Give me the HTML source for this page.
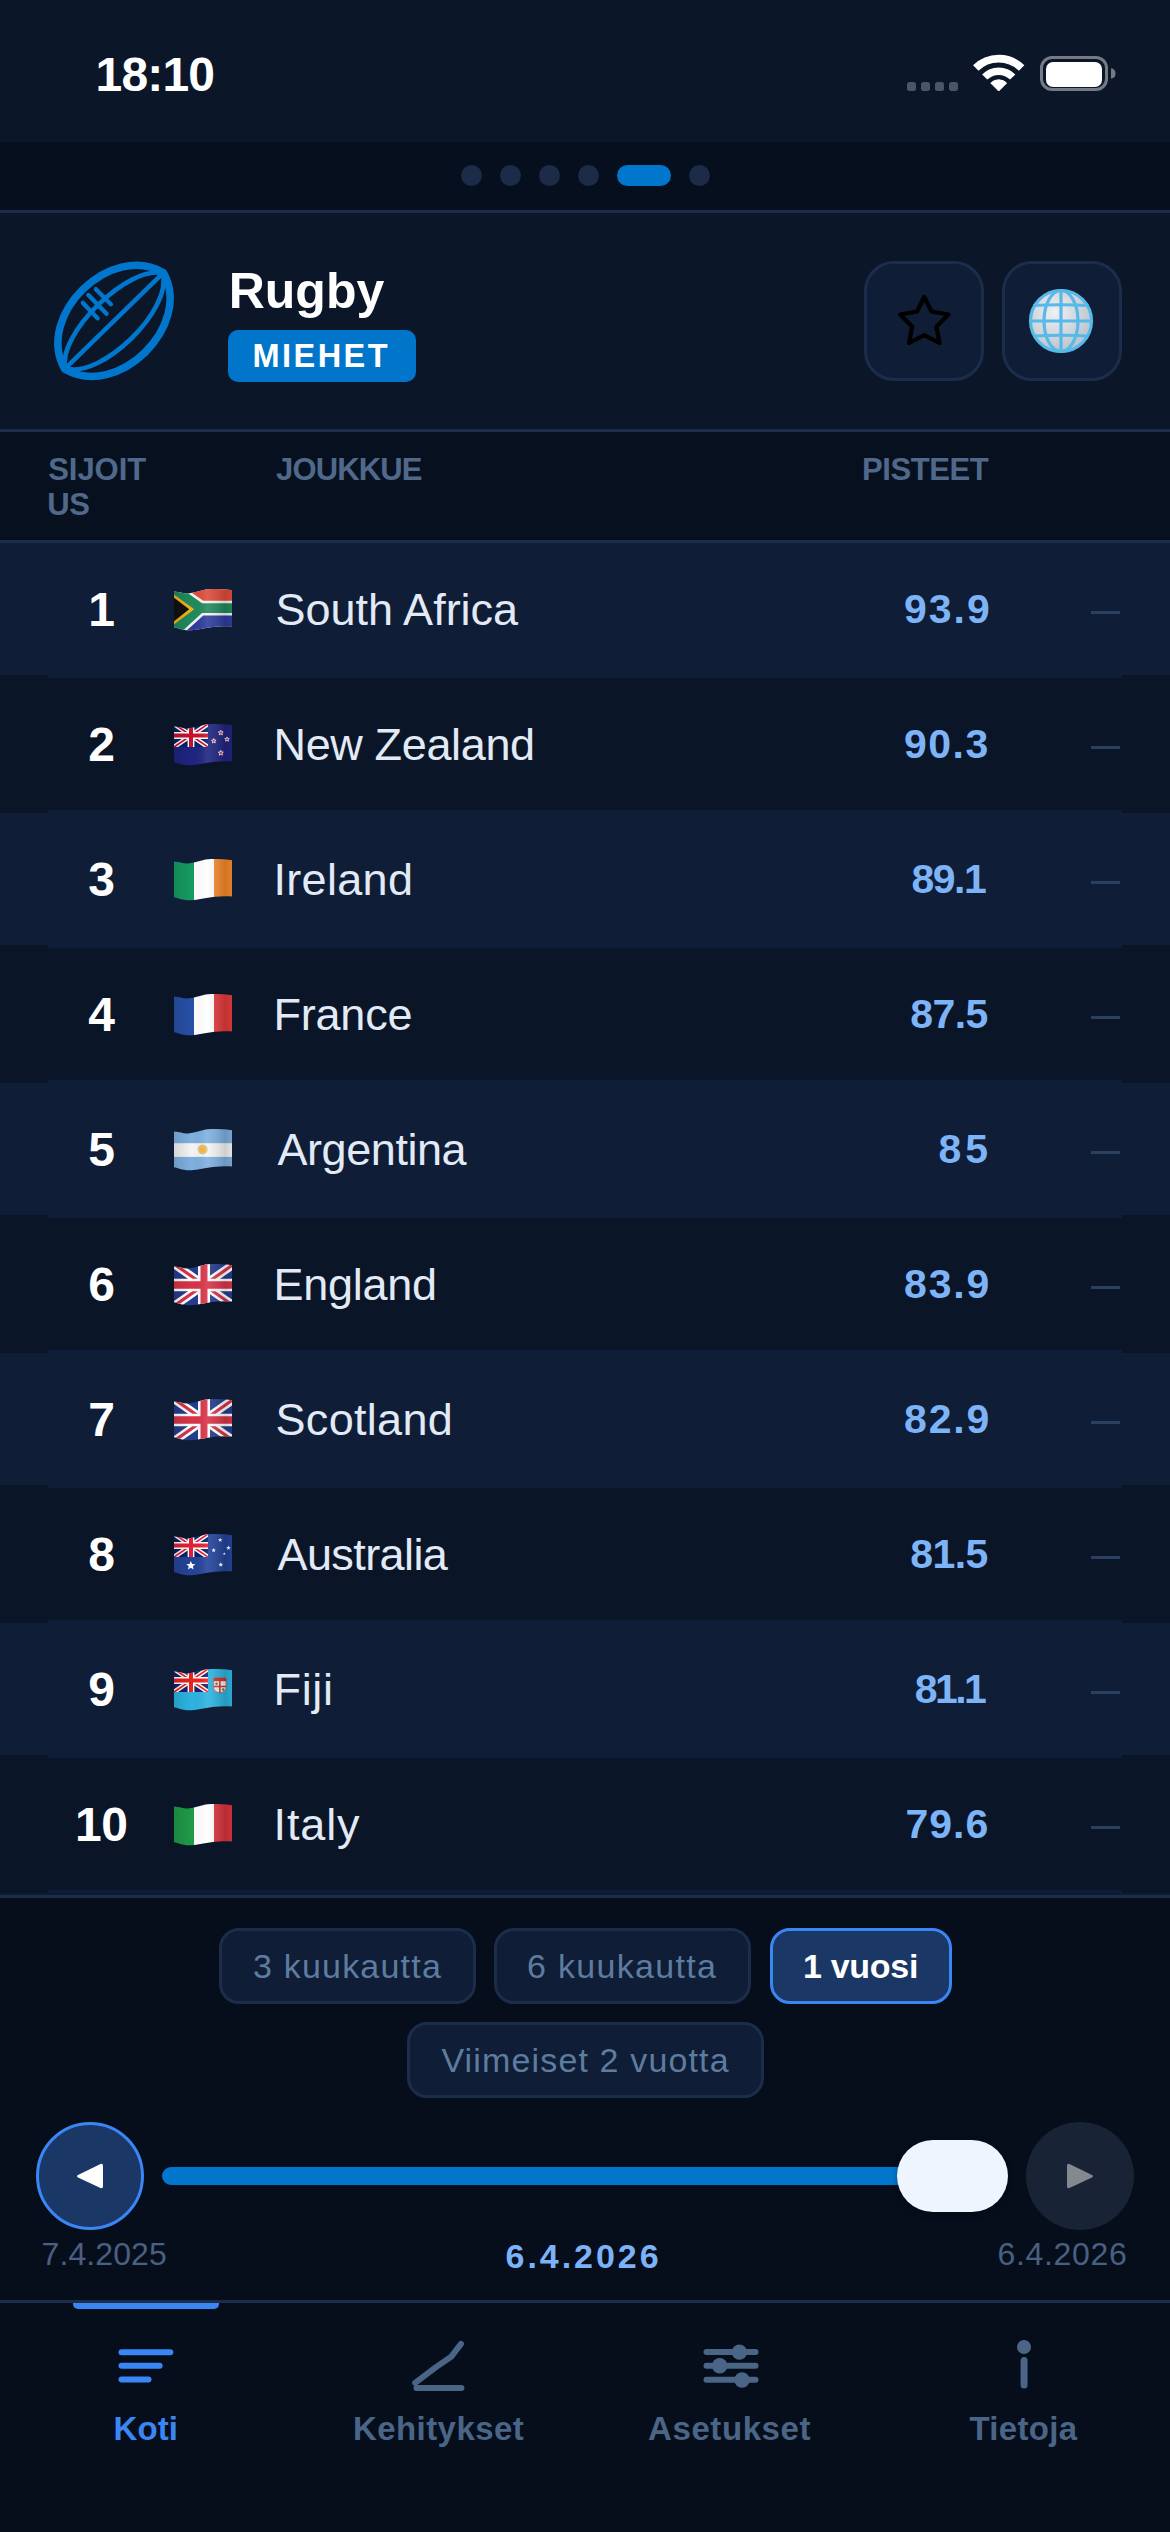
<!DOCTYPE html>
<html><head><meta charset="utf-8"><style>
html,body{margin:0;padding:0;width:1170px;height:2532px;overflow:hidden;background:#060e1c;}
body{position:relative;font-family:"Liberation Sans", sans-serif;}
.r{position:absolute;}
.t{position:absolute;white-space:nowrap;}
</style></head><body>
<div class="r" style="left:0px;top:0px;width:1170px;height:141px;background:#0b1628;"></div>
<div class="r" style="left:0px;top:141px;width:1170px;height:69px;background:#060f1d;"></div>
<div class="r" style="left:0px;top:140px;width:1170px;height:2px;background:#0b172c;"></div>
<div class="r" style="left:0px;top:210px;width:1170px;height:3px;background:#1c2c4b;"></div>
<div class="r" style="left:0px;top:213px;width:1170px;height:216px;background:#0b1628;"></div>
<div class="r" style="left:0px;top:429px;width:1170px;height:3px;background:#1c2c4b;"></div>
<div class="r" style="left:0px;top:432px;width:1170px;height:108px;background:#07101f;"></div>
<div class="r" style="left:0px;top:540px;width:1170px;height:3px;background:#1c2c4b;"></div>
<div class="r" style="left:0px;top:1893px;width:1170px;height:2px;background:#0e1b33;"></div>
<div class="r" style="left:0px;top:1895px;width:1170px;height:3px;background:#1c2c4b;"></div>
<div class="r" style="left:0px;top:1898px;width:1170px;height:634px;background:#060e1c;"></div>
<div class="r" style="left:0px;top:2300px;width:1170px;height:3px;background:#1c2c4b;"></div>
<div class="t" style="left:95.5px;top:51.07px;font-size:48px;line-height:48px;color:#ffffff;font-weight:700;letter-spacing:-0.8px;">18:10</div>
<div class="r" style="left:907px;top:82px;width:9px;height:9px;background:#4a5566;border-radius:2.5px;"></div>
<div class="r" style="left:921px;top:82px;width:9px;height:9px;background:#4a5566;border-radius:2.5px;"></div>
<div class="r" style="left:935px;top:82px;width:9px;height:9px;background:#4a5566;border-radius:2.5px;"></div>
<div class="r" style="left:949px;top:82px;width:9px;height:9px;background:#4a5566;border-radius:2.5px;"></div>
<svg class="r" style="left:960px;top:45px" width="80" height="50" viewBox="960 45 80 50">
<g fill="none" stroke="#fff">
<path d="M975.79 68.09 A32.4 32.4 0 0 1 1021.61 68.09" stroke-width="7.8"/>
<path d="M984.70 77.00 A19.8 19.8 0 0 1 1012.70 77.00" stroke-width="7.4"/>
</g>
<path d="M998.7 91.0 L990.78 83.08 A11.2 11.2 0 0 1 1006.62 83.08 Z" fill="#fff" stroke="#fff" stroke-width="1" stroke-linejoin="round"/>
</svg>
<div class="r" style="left:1040px;top:56px;width:62px;height:29px;background:transparent;border:3.5px solid #757b85;border-radius:12px;"></div>
<div class="r" style="left:1046px;top:61.5px;width:56px;height:25px;background:#ffffff;border-radius:7px;"></div>
<svg class="r" style="left:1110px;top:67px" width="8" height="13" viewBox="0 0 8 13"><path d="M1 1.3 Q5.5 2 5.5 6.5 Q5.5 11 1 11.7 Z" fill="#757b85"/></svg>
<div class="r" style="left:461px;top:165px;width:21px;height:21px;background:#1b2b48;border-radius:50%;"></div>
<div class="r" style="left:500px;top:165px;width:21px;height:21px;background:#1b2b48;border-radius:50%;"></div>
<div class="r" style="left:539px;top:165px;width:21px;height:21px;background:#1b2b48;border-radius:50%;"></div>
<div class="r" style="left:578px;top:165px;width:21px;height:21px;background:#1b2b48;border-radius:50%;"></div>
<div class="r" style="left:689px;top:165px;width:21px;height:21px;background:#1b2b48;border-radius:50%;"></div>
<div class="r" style="left:617px;top:165px;width:54px;height:21px;background:#0077cc;border-radius:11px;"></div>
<svg class="r" style="left:40px;top:250px" width="150" height="140" viewBox="40 250 150 140">
<g fill="none" stroke="#0077cc" stroke-linecap="round" stroke-linejoin="round">
<g transform="translate(114 320.8) rotate(-44.3)">
<path d="M-69 0 C-53 -59 53 -59 69 0 C53 59 -53 59 -69 0 Z" stroke-width="7.5"/>
<line x1="-68" y1="0" x2="68" y2="0" stroke-width="4.5"/>
<path d="M-68 0 C-50 -30 50 -30 68 0" stroke-width="4.6"/>
<path d="M-68 0 C-50 33 50 33 68 0" stroke-width="4.6"/>
</g>
<line x1="82.9" y1="302.9" x2="97.6" y2="318.3" stroke-width="4.4"/>
<line x1="88.4" y1="295" x2="106.5" y2="313.8" stroke-width="4.4"/>
<line x1="95.9" y1="289.2" x2="110.9" y2="304.2" stroke-width="4.4"/>
</g></svg>
<div class="t" style="left:228.7px;top:266.48px;font-size:50px;line-height:50px;color:#ffffff;font-weight:700;letter-spacing:0.0px;">Rugby</div>
<div class="r" style="left:228px;top:330px;width:188px;height:52px;background:#0075ca;border-radius:10px;"></div>
<div class="t" style="left:252.5px;top:339.69px;font-size:32.5px;line-height:32.5px;color:#ffffff;font-weight:700;letter-spacing:2.46px;">MIEHET</div>
<div class="r" style="left:864px;top:261px;width:120px;height:120px;background:#0f1d36;border:3px solid #1c2d4b;border-radius:30px;box-sizing:border-box;"></div>
<div class="r" style="left:1002px;top:261px;width:120px;height:120px;background:#0f1d36;border:3px solid #1c2d4b;border-radius:30px;box-sizing:border-box;"></div>
<svg class="r" style="left:890px;top:288px" width="70" height="66" viewBox="890 288 70 66">
<path d="M924.3 297 L931.5 311.5 L948.5 314.5 L936.5 326.5 L939.5 343 L924.3 335.2 L909.1 343 L912.1 326.5 L900.1 314.5 L917.1 311.5 Z" fill="none" stroke="#000" stroke-width="4.2" stroke-linejoin="round"/>
</svg>
<svg class="r" style="left:1026px;top:286px" width="70" height="70" viewBox="0 0 70 70">
<defs><radialGradient id="gg" cx="0.4" cy="0.35" r="0.7"><stop offset="0" stop-color="#eef0f3"/><stop offset="1" stop-color="#b9c0c9"/></radialGradient></defs>
<circle cx="35" cy="35" r="31" fill="url(#gg)"/>
<g fill="none" stroke="#56b9e8" stroke-width="3.2">
<circle cx="35" cy="35" r="30.5"/>
<ellipse cx="35" cy="35" rx="17" ry="30.5"/>
<line x1="35" y1="4.5" x2="35" y2="65.5"/>
<line x1="4.5" y1="35" x2="65.5" y2="35"/>
<path d="M7.5 19.5 Q35 18 62.5 19.5"/>
<path d="M7.5 50 Q35 48.5 62.5 50"/>
</g></svg>
<div class="t" style="left:48.2px;top:453.76px;font-size:31px;line-height:31px;color:#50698a;font-weight:700;letter-spacing:-0.04px;">SIJOIT</div>
<div class="t" style="left:47.2px;top:488.76px;font-size:31px;line-height:31px;color:#50698a;font-weight:700;letter-spacing:-0.3px;">US</div>
<div class="t" style="left:276.0px;top:453.76px;font-size:31px;line-height:31px;color:#50698a;font-weight:700;letter-spacing:-0.85px;">JOUKKUE</div>
<div class="t" style="left:862.0px;top:453.76px;font-size:31px;line-height:31px;color:#50698a;font-weight:700;letter-spacing:-0.417px;">PISTEET</div>
<div class="r" style="left:0px;top:543px;width:1170px;height:132px;background:#0f1d36;"></div>
<div class="r" style="left:48px;top:675px;width:1074px;height:3px;background:#0f1e38;"></div>
<div class="r" style="left:0px;top:675px;width:48px;height:3px;background:#0a1527;"></div>
<div class="r" style="left:1122px;top:675px;width:48px;height:3px;background:#0a1527;"></div>
<div class="t" style="left:-298.7px;width:800px;text-align:center;top:585.67px;font-size:48px;line-height:48px;color:#ffffff;font-weight:700;letter-spacing:-0.5px;">1</div>
<svg class="r" style="left:174px;top:589px" width="60" height="43" viewBox="0 0 60 43"><defs><clipPath id="cp0"><path d="M0 2.6 C6 3 9 4.8 14 4.5 C22 3.5 30 0 37 0 C47 0 54 0.5 58 1.2 L58 37.5 C53 37 45 37.5 37 38.2 C28 39.5 20 41.5 14.6 41.3 C8 41 4 39 0 38.2 Z"/></clipPath><linearGradient id="sh0" x1="0" x2="1" y1="0" y2="0"><stop offset="0" stop-color="#000" stop-opacity="0.12"/><stop offset="0.3" stop-color="#000" stop-opacity="0"/><stop offset="0.55" stop-color="#fff" stop-opacity="0.10"/><stop offset="0.85" stop-color="#000" stop-opacity="0.15"/><stop offset="1" stop-color="#000" stop-opacity="0.05"/></linearGradient></defs><g clip-path="url(#cp0)"><rect x="0" y="0" width="60" height="43" fill="#f4f4f4"/>
<polygon points="12.3,0 60,0 60,11.8 29.3,11.8" fill="#de4b3a"/>
<polygon points="29.3,26.4 60,26.4 60,43 11,43" fill="#2f3d9e"/>
<polygon points="0,0 7.95,0 28.1,14.2 60,14.2 60,24.1 28.0,24.1 7.3,43 0,43" fill="#1f8a5e"/>
<polygon points="0,5.5 20.2,20.3 0,35.5" fill="#f2b31a"/>
<polygon points="0,8.8 15.2,20.3 0,32.3" fill="#111"/><rect x="0" y="0" width="60" height="43" fill="url(#sh0)"/></g></svg>
<div class="t" style="left:275.5px;top:587.41px;font-size:45px;line-height:45px;color:#e2eaf6;font-weight:400;letter-spacing:0.0px;">South Africa</div>
<div class="t" style="left:904.0px;top:589.09px;font-size:41px;line-height:41px;color:#7db4f7;font-weight:700;letter-spacing:2.0px;">93.9</div>
<div class="r" style="left:1091px;top:611px;width:29px;height:3px;background:#2b405e;"></div>
<div class="r" style="left:0px;top:678px;width:1170px;height:132px;background:#0a1527;"></div>
<div class="r" style="left:48px;top:810px;width:1074px;height:3px;background:#0f1e38;"></div>
<div class="r" style="left:0px;top:810px;width:48px;height:3px;background:#0a1527;"></div>
<div class="r" style="left:1122px;top:810px;width:48px;height:3px;background:#0a1527;"></div>
<div class="t" style="left:-298.7px;width:800px;text-align:center;top:720.67px;font-size:48px;line-height:48px;color:#ffffff;font-weight:700;letter-spacing:-0.5px;">2</div>
<svg class="r" style="left:174px;top:724px" width="60" height="43" viewBox="0 0 60 43"><defs><clipPath id="cp1"><path d="M0 2.6 C6 3 9 4.8 14 4.5 C22 3.5 30 0 37 0 C47 0 54 0.5 58 1.2 L58 37.5 C53 37 45 37.5 37 38.2 C28 39.5 20 41.5 14.6 41.3 C8 41 4 39 0 38.2 Z"/></clipPath><linearGradient id="sh1" x1="0" x2="1" y1="0" y2="0"><stop offset="0" stop-color="#000" stop-opacity="0.12"/><stop offset="0.3" stop-color="#000" stop-opacity="0"/><stop offset="0.55" stop-color="#fff" stop-opacity="0.10"/><stop offset="0.85" stop-color="#000" stop-opacity="0.15"/><stop offset="1" stop-color="#000" stop-opacity="0.05"/></linearGradient></defs><g clip-path="url(#cp1)"><rect x="0" y="0" width="60" height="43" fill="#1f2480"/><svg x="0" y="0" width="34" height="23" viewBox="0 0 60 40" preserveAspectRatio="none"><rect x="0" y="0" width="60" height="40" fill="#012169"/>
<path d="M0 0 L60 40 M60 0 L0 40" stroke="#fff" stroke-width="8"/>
<path d="M0 0 L60 40 M60 0 L0 40" stroke="#c8102e" stroke-width="3"/>
<path d="M30 0 V40 M0 20 H60" stroke="#fff" stroke-width="12"/>
<path d="M30 0 V40 M0 20 H60" stroke="#c8102e" stroke-width="7"/></svg><polygon points="46.80,6.20 47.49,7.85 49.27,8.00 47.91,9.16 48.33,10.90 46.80,9.97 45.27,10.90 45.69,9.16 44.33,8.00 46.11,7.85" fill="#d42a2a" stroke="#fff" stroke-width="0.8"/><polygon points="53.00,12.90 53.63,14.43 55.28,14.56 54.03,15.63 54.41,17.24 53.00,16.38 51.59,17.24 51.97,15.63 50.72,14.56 52.37,14.43" fill="#d42a2a" stroke="#fff" stroke-width="0.8"/><polygon points="39.80,14.60 40.43,16.13 42.08,16.26 40.83,17.33 41.21,18.94 39.80,18.08 38.39,18.94 38.77,17.33 37.52,16.26 39.17,16.13" fill="#d42a2a" stroke="#fff" stroke-width="0.8"/><polygon points="46.80,26.30 47.51,28.02 49.37,28.17 47.96,29.38 48.39,31.18 46.80,30.21 45.21,31.18 45.64,29.38 44.23,28.17 46.09,28.02" fill="#d42a2a" stroke="#fff" stroke-width="0.8"/><rect x="0" y="0" width="60" height="43" fill="url(#sh1)"/></g></svg>
<div class="t" style="left:273.5px;top:722.41px;font-size:45px;line-height:45px;color:#e2eaf6;font-weight:400;letter-spacing:-0.35px;">New Zealand</div>
<div class="t" style="left:904.0px;top:724.09px;font-size:41px;line-height:41px;color:#7db4f7;font-weight:700;letter-spacing:1.467px;">90.3</div>
<div class="r" style="left:1091px;top:746px;width:29px;height:3px;background:#2b405e;"></div>
<div class="r" style="left:0px;top:813px;width:1170px;height:132px;background:#0f1d36;"></div>
<div class="r" style="left:48px;top:945px;width:1074px;height:3px;background:#0f1e38;"></div>
<div class="r" style="left:0px;top:945px;width:48px;height:3px;background:#0a1527;"></div>
<div class="r" style="left:1122px;top:945px;width:48px;height:3px;background:#0a1527;"></div>
<div class="t" style="left:-298.7px;width:800px;text-align:center;top:855.67px;font-size:48px;line-height:48px;color:#ffffff;font-weight:700;letter-spacing:-0.5px;">3</div>
<svg class="r" style="left:174px;top:859px" width="60" height="43" viewBox="0 0 60 43"><defs><clipPath id="cp2"><path d="M0 2.6 C6 3 9 4.8 14 4.5 C22 3.5 30 0 37 0 C47 0 54 0.5 58 1.2 L58 37.5 C53 37 45 37.5 37 38.2 C28 39.5 20 41.5 14.6 41.3 C8 41 4 39 0 38.2 Z"/></clipPath><linearGradient id="sh2" x1="0" x2="1" y1="0" y2="0"><stop offset="0" stop-color="#000" stop-opacity="0.12"/><stop offset="0.3" stop-color="#000" stop-opacity="0"/><stop offset="0.55" stop-color="#fff" stop-opacity="0.10"/><stop offset="0.85" stop-color="#000" stop-opacity="0.15"/><stop offset="1" stop-color="#000" stop-opacity="0.05"/></linearGradient></defs><g clip-path="url(#cp2)"><rect x="0" y="0" width="20" height="42" fill="#169b62"/><rect x="20" y="0" width="20" height="42" fill="#fff"/><rect x="40" y="0" width="20" height="42" fill="#f58a2c"/><rect x="0" y="0" width="60" height="43" fill="url(#sh2)"/></g></svg>
<div class="t" style="left:273.5px;top:857.41px;font-size:45px;line-height:45px;color:#e2eaf6;font-weight:400;letter-spacing:0.317px;">Ireland</div>
<div class="t" style="left:911.5px;top:859.09px;font-size:41px;line-height:41px;color:#7db4f7;font-weight:700;letter-spacing:-1.5px;">89.1</div>
<div class="r" style="left:1091px;top:881px;width:29px;height:3px;background:#2b405e;"></div>
<div class="r" style="left:0px;top:948px;width:1170px;height:132px;background:#0a1527;"></div>
<div class="r" style="left:48px;top:1080px;width:1074px;height:3px;background:#0f1e38;"></div>
<div class="r" style="left:0px;top:1080px;width:48px;height:3px;background:#0a1527;"></div>
<div class="r" style="left:1122px;top:1080px;width:48px;height:3px;background:#0a1527;"></div>
<div class="t" style="left:-298.7px;width:800px;text-align:center;top:990.67px;font-size:48px;line-height:48px;color:#ffffff;font-weight:700;letter-spacing:-0.5px;">4</div>
<svg class="r" style="left:174px;top:994px" width="60" height="43" viewBox="0 0 60 43"><defs><clipPath id="cp3"><path d="M0 2.6 C6 3 9 4.8 14 4.5 C22 3.5 30 0 37 0 C47 0 54 0.5 58 1.2 L58 37.5 C53 37 45 37.5 37 38.2 C28 39.5 20 41.5 14.6 41.3 C8 41 4 39 0 38.2 Z"/></clipPath><linearGradient id="sh3" x1="0" x2="1" y1="0" y2="0"><stop offset="0" stop-color="#000" stop-opacity="0.12"/><stop offset="0.3" stop-color="#000" stop-opacity="0"/><stop offset="0.55" stop-color="#fff" stop-opacity="0.10"/><stop offset="0.85" stop-color="#000" stop-opacity="0.15"/><stop offset="1" stop-color="#000" stop-opacity="0.05"/></linearGradient></defs><g clip-path="url(#cp3)"><rect x="0" y="0" width="20" height="42" fill="#2850a8"/><rect x="20" y="0" width="20" height="42" fill="#fff"/><rect x="40" y="0" width="20" height="42" fill="#e23b3b"/><rect x="0" y="0" width="60" height="43" fill="url(#sh3)"/></g></svg>
<div class="t" style="left:273.5px;top:992.41px;font-size:45px;line-height:45px;color:#e2eaf6;font-weight:400;letter-spacing:-0.22px;">France</div>
<div class="t" style="left:910.3px;top:994.09px;font-size:41px;line-height:41px;color:#7db4f7;font-weight:700;letter-spacing:-0.6px;">87.5</div>
<div class="r" style="left:1091px;top:1016px;width:29px;height:3px;background:#2b405e;"></div>
<div class="r" style="left:0px;top:1083px;width:1170px;height:132px;background:#0f1d36;"></div>
<div class="r" style="left:48px;top:1215px;width:1074px;height:3px;background:#0f1e38;"></div>
<div class="r" style="left:0px;top:1215px;width:48px;height:3px;background:#0a1527;"></div>
<div class="r" style="left:1122px;top:1215px;width:48px;height:3px;background:#0a1527;"></div>
<div class="t" style="left:-298.7px;width:800px;text-align:center;top:1125.67px;font-size:48px;line-height:48px;color:#ffffff;font-weight:700;letter-spacing:-0.5px;">5</div>
<svg class="r" style="left:174px;top:1129px" width="60" height="43" viewBox="0 0 60 43"><defs><clipPath id="cp4"><path d="M0 2.6 C6 3 9 4.8 14 4.5 C22 3.5 30 0 37 0 C47 0 54 0.5 58 1.2 L58 37.5 C53 37 45 37.5 37 38.2 C28 39.5 20 41.5 14.6 41.3 C8 41 4 39 0 38.2 Z"/></clipPath><linearGradient id="sh4" x1="0" x2="1" y1="0" y2="0"><stop offset="0" stop-color="#000" stop-opacity="0.12"/><stop offset="0.3" stop-color="#000" stop-opacity="0"/><stop offset="0.55" stop-color="#fff" stop-opacity="0.10"/><stop offset="0.85" stop-color="#000" stop-opacity="0.15"/><stop offset="1" stop-color="#000" stop-opacity="0.05"/></linearGradient></defs><g clip-path="url(#cp4)"><rect x="0" y="0" width="60" height="43" fill="#7fb0e0"/><rect x="0" y="14.2" width="60" height="13.7" fill="#f4f4f4"/><circle cx="28.7" cy="20.4" r="5" fill="#e3c08a"/><circle cx="28.7" cy="20.4" r="3" fill="#f0b930"/><rect x="0" y="0" width="60" height="43" fill="url(#sh4)"/></g></svg>
<div class="t" style="left:277.5px;top:1127.41px;font-size:45px;line-height:45px;color:#e2eaf6;font-weight:400;letter-spacing:-0.438px;">Argentina</div>
<div class="t" style="left:938.4px;top:1129.09px;font-size:41px;line-height:41px;color:#7db4f7;font-weight:700;letter-spacing:4.1px;">85</div>
<div class="r" style="left:1091px;top:1151px;width:29px;height:3px;background:#2b405e;"></div>
<div class="r" style="left:0px;top:1218px;width:1170px;height:132px;background:#0a1527;"></div>
<div class="r" style="left:48px;top:1350px;width:1074px;height:3px;background:#0f1e38;"></div>
<div class="r" style="left:0px;top:1350px;width:48px;height:3px;background:#0a1527;"></div>
<div class="r" style="left:1122px;top:1350px;width:48px;height:3px;background:#0a1527;"></div>
<div class="t" style="left:-298.7px;width:800px;text-align:center;top:1260.67px;font-size:48px;line-height:48px;color:#ffffff;font-weight:700;letter-spacing:-0.5px;">6</div>
<svg class="r" style="left:174px;top:1264px" width="60" height="43" viewBox="0 0 60 43"><defs><clipPath id="cp5"><path d="M0 2.6 C6 3 9 4.8 14 4.5 C22 3.5 30 0 37 0 C47 0 54 0.5 58 1.2 L58 37.5 C53 37 45 37.5 37 38.2 C28 39.5 20 41.5 14.6 41.3 C8 41 4 39 0 38.2 Z"/></clipPath><linearGradient id="sh5" x1="0" x2="1" y1="0" y2="0"><stop offset="0" stop-color="#000" stop-opacity="0.12"/><stop offset="0.3" stop-color="#000" stop-opacity="0"/><stop offset="0.55" stop-color="#fff" stop-opacity="0.10"/><stop offset="0.85" stop-color="#000" stop-opacity="0.15"/><stop offset="1" stop-color="#000" stop-opacity="0.05"/></linearGradient></defs><g clip-path="url(#cp5)"><svg x="0" y="0" width="60" height="42" viewBox="0 0 60 40" preserveAspectRatio="none"><rect x="0" y="0" width="60" height="40" fill="#233d8f"/>
<path d="M0 0 L60 40 M60 0 L0 40" stroke="#fff" stroke-width="8"/>
<path d="M0 0 L60 40 M60 0 L0 40" stroke="#d83448" stroke-width="3"/>
<path d="M30 0 V40 M0 20 H60" stroke="#fff" stroke-width="12"/>
<path d="M30 0 V40 M0 20 H60" stroke="#d83448" stroke-width="7"/></svg><rect x="0" y="0" width="60" height="43" fill="url(#sh5)"/></g></svg>
<div class="t" style="left:273.5px;top:1262.41px;font-size:45px;line-height:45px;color:#e2eaf6;font-weight:400;letter-spacing:-0.25px;">England</div>
<div class="t" style="left:904.0px;top:1264.09px;font-size:41px;line-height:41px;color:#7db4f7;font-weight:700;letter-spacing:1.833px;">83.9</div>
<div class="r" style="left:1091px;top:1286px;width:29px;height:3px;background:#2b405e;"></div>
<div class="r" style="left:0px;top:1353px;width:1170px;height:132px;background:#0f1d36;"></div>
<div class="r" style="left:48px;top:1485px;width:1074px;height:3px;background:#0f1e38;"></div>
<div class="r" style="left:0px;top:1485px;width:48px;height:3px;background:#0a1527;"></div>
<div class="r" style="left:1122px;top:1485px;width:48px;height:3px;background:#0a1527;"></div>
<div class="t" style="left:-298.7px;width:800px;text-align:center;top:1395.67px;font-size:48px;line-height:48px;color:#ffffff;font-weight:700;letter-spacing:-0.5px;">7</div>
<svg class="r" style="left:174px;top:1399px" width="60" height="43" viewBox="0 0 60 43"><defs><clipPath id="cp6"><path d="M0 2.6 C6 3 9 4.8 14 4.5 C22 3.5 30 0 37 0 C47 0 54 0.5 58 1.2 L58 37.5 C53 37 45 37.5 37 38.2 C28 39.5 20 41.5 14.6 41.3 C8 41 4 39 0 38.2 Z"/></clipPath><linearGradient id="sh6" x1="0" x2="1" y1="0" y2="0"><stop offset="0" stop-color="#000" stop-opacity="0.12"/><stop offset="0.3" stop-color="#000" stop-opacity="0"/><stop offset="0.55" stop-color="#fff" stop-opacity="0.10"/><stop offset="0.85" stop-color="#000" stop-opacity="0.15"/><stop offset="1" stop-color="#000" stop-opacity="0.05"/></linearGradient></defs><g clip-path="url(#cp6)"><svg x="0" y="0" width="60" height="42" viewBox="0 0 60 40" preserveAspectRatio="none"><rect x="0" y="0" width="60" height="40" fill="#233d8f"/>
<path d="M0 0 L60 40 M60 0 L0 40" stroke="#fff" stroke-width="8"/>
<path d="M0 0 L60 40 M60 0 L0 40" stroke="#d83448" stroke-width="3"/>
<path d="M30 0 V40 M0 20 H60" stroke="#fff" stroke-width="12"/>
<path d="M30 0 V40 M0 20 H60" stroke="#d83448" stroke-width="7"/></svg><rect x="0" y="0" width="60" height="43" fill="url(#sh6)"/></g></svg>
<div class="t" style="left:275.5px;top:1397.41px;font-size:45px;line-height:45px;color:#e2eaf6;font-weight:400;letter-spacing:0.314px;">Scotland</div>
<div class="t" style="left:904.0px;top:1399.09px;font-size:41px;line-height:41px;color:#7db4f7;font-weight:700;letter-spacing:1.833px;">82.9</div>
<div class="r" style="left:1091px;top:1421px;width:29px;height:3px;background:#2b405e;"></div>
<div class="r" style="left:0px;top:1488px;width:1170px;height:132px;background:#0a1527;"></div>
<div class="r" style="left:48px;top:1620px;width:1074px;height:3px;background:#0f1e38;"></div>
<div class="r" style="left:0px;top:1620px;width:48px;height:3px;background:#0a1527;"></div>
<div class="r" style="left:1122px;top:1620px;width:48px;height:3px;background:#0a1527;"></div>
<div class="t" style="left:-298.7px;width:800px;text-align:center;top:1530.67px;font-size:48px;line-height:48px;color:#ffffff;font-weight:700;letter-spacing:-0.5px;">8</div>
<svg class="r" style="left:174px;top:1534px" width="60" height="43" viewBox="0 0 60 43"><defs><clipPath id="cp7"><path d="M0 2.6 C6 3 9 4.8 14 4.5 C22 3.5 30 0 37 0 C47 0 54 0.5 58 1.2 L58 37.5 C53 37 45 37.5 37 38.2 C28 39.5 20 41.5 14.6 41.3 C8 41 4 39 0 38.2 Z"/></clipPath><linearGradient id="sh7" x1="0" x2="1" y1="0" y2="0"><stop offset="0" stop-color="#000" stop-opacity="0.12"/><stop offset="0.3" stop-color="#000" stop-opacity="0"/><stop offset="0.55" stop-color="#fff" stop-opacity="0.10"/><stop offset="0.85" stop-color="#000" stop-opacity="0.15"/><stop offset="1" stop-color="#000" stop-opacity="0.05"/></linearGradient></defs><g clip-path="url(#cp7)"><rect x="0" y="0" width="60" height="43" fill="#24449a"/><svg x="0" y="0" width="34" height="23" viewBox="0 0 60 40" preserveAspectRatio="none"><rect x="0" y="0" width="60" height="40" fill="#012169"/>
<path d="M0 0 L60 40 M60 0 L0 40" stroke="#fff" stroke-width="8"/>
<path d="M0 0 L60 40 M60 0 L0 40" stroke="#e2203a" stroke-width="3"/>
<path d="M30 0 V40 M0 20 H60" stroke="#fff" stroke-width="12"/>
<path d="M30 0 V40 M0 20 H60" stroke="#e2203a" stroke-width="7"/></svg><polygon points="16.80,26.90 18.07,29.95 21.37,30.22 18.85,32.37 19.62,35.58 16.80,33.86 13.98,35.58 14.75,32.37 12.23,30.22 15.53,29.95" fill="#fff"/><polygon points="46.20,3.70 46.81,5.16 48.39,5.29 47.18,6.32 47.55,7.86 46.20,7.04 44.85,7.86 45.22,6.32 44.01,5.29 45.59,5.16" fill="#fff"/><polygon points="54.40,11.60 55.01,13.06 56.59,13.19 55.38,14.22 55.75,15.76 54.40,14.94 53.05,15.76 53.42,14.22 52.21,13.19 53.79,13.06" fill="#fff"/><polygon points="39.70,14.00 40.31,15.46 41.89,15.59 40.68,16.62 41.05,18.16 39.70,17.34 38.35,18.16 38.72,16.62 37.51,15.59 39.09,15.46" fill="#fff"/><polygon points="50.30,18.20 50.70,19.15 51.73,19.24 50.94,19.91 51.18,20.91 50.30,20.38 49.42,20.91 49.66,19.91 48.87,19.24 49.90,19.15" fill="#fff"/><polygon points="46.80,28.20 47.46,29.79 49.18,29.93 47.87,31.05 48.27,32.72 46.80,31.82 45.33,32.72 45.73,31.05 44.42,29.93 46.14,29.79" fill="#fff"/><rect x="0" y="0" width="60" height="43" fill="url(#sh7)"/></g></svg>
<div class="t" style="left:277.5px;top:1532.41px;font-size:45px;line-height:45px;color:#e2eaf6;font-weight:400;letter-spacing:-0.587px;">Australia</div>
<div class="t" style="left:910.3px;top:1534.09px;font-size:41px;line-height:41px;color:#7db4f7;font-weight:700;letter-spacing:-0.6px;">81.5</div>
<div class="r" style="left:1091px;top:1556px;width:29px;height:3px;background:#2b405e;"></div>
<div class="r" style="left:0px;top:1623px;width:1170px;height:132px;background:#0f1d36;"></div>
<div class="r" style="left:48px;top:1755px;width:1074px;height:3px;background:#0f1e38;"></div>
<div class="r" style="left:0px;top:1755px;width:48px;height:3px;background:#0a1527;"></div>
<div class="r" style="left:1122px;top:1755px;width:48px;height:3px;background:#0a1527;"></div>
<div class="t" style="left:-298.7px;width:800px;text-align:center;top:1665.67px;font-size:48px;line-height:48px;color:#ffffff;font-weight:700;letter-spacing:-0.5px;">9</div>
<svg class="r" style="left:174px;top:1669px" width="60" height="43" viewBox="0 0 60 43"><defs><clipPath id="cp8"><path d="M0 2.6 C6 3 9 4.8 14 4.5 C22 3.5 30 0 37 0 C47 0 54 0.5 58 1.2 L58 37.5 C53 37 45 37.5 37 38.2 C28 39.5 20 41.5 14.6 41.3 C8 41 4 39 0 38.2 Z"/></clipPath><linearGradient id="sh8" x1="0" x2="1" y1="0" y2="0"><stop offset="0" stop-color="#000" stop-opacity="0.12"/><stop offset="0.3" stop-color="#000" stop-opacity="0"/><stop offset="0.55" stop-color="#fff" stop-opacity="0.10"/><stop offset="0.85" stop-color="#000" stop-opacity="0.15"/><stop offset="1" stop-color="#000" stop-opacity="0.05"/></linearGradient></defs><g clip-path="url(#cp8)"><rect x="0" y="0" width="60" height="43" fill="#2db4e0"/><svg x="0" y="0" width="34" height="23" viewBox="0 0 60 40" preserveAspectRatio="none"><rect x="0" y="0" width="60" height="40" fill="#1a1f6e"/>
<path d="M0 0 L60 40 M60 0 L0 40" stroke="#fff" stroke-width="8"/>
<path d="M0 0 L60 40 M60 0 L0 40" stroke="#e8231f" stroke-width="3"/>
<path d="M30 0 V40 M0 20 H60" stroke="#fff" stroke-width="12"/>
<path d="M30 0 V40 M0 20 H60" stroke="#e8231f" stroke-width="7"/></svg><path d="M39.7 9 H52 V19 Q52 22.5 45.85 24 Q39.7 22.5 39.7 19 Z" fill="#f0f0f0" stroke="#d4302a" stroke-width="0.6"/><rect x="39.7" y="9" width="12.3" height="3.2" fill="#d4302a"/><path d="M45.85 12 V24 M39.7 17.5 H52" stroke="#d4302a" stroke-width="1.6"/><circle cx="42.5" cy="14.8" r="1.2" fill="#3a8a3a"/><circle cx="49.2" cy="20.5" r="1.2" fill="#3a8a3a"/><rect x="0" y="0" width="60" height="43" fill="url(#sh8)"/></g></svg>
<div class="t" style="left:273.5px;top:1667.41px;font-size:45px;line-height:45px;color:#e2eaf6;font-weight:400;letter-spacing:0.667px;">Fiji</div>
<div class="t" style="left:914.7px;top:1669.09px;font-size:41px;line-height:41px;color:#7db4f7;font-weight:700;letter-spacing:-2.567px;">81.1</div>
<div class="r" style="left:1091px;top:1691px;width:29px;height:3px;background:#2b405e;"></div>
<div class="r" style="left:0px;top:1758px;width:1170px;height:132px;background:#0a1527;"></div>
<div class="r" style="left:48px;top:1890px;width:1074px;height:3px;background:#0f1e38;"></div>
<div class="r" style="left:0px;top:1890px;width:48px;height:3px;background:#0a1527;"></div>
<div class="r" style="left:1122px;top:1890px;width:48px;height:3px;background:#0a1527;"></div>
<div class="t" style="left:-298.7px;width:800px;text-align:center;top:1800.67px;font-size:48px;line-height:48px;color:#ffffff;font-weight:700;letter-spacing:-0.5px;">10</div>
<svg class="r" style="left:174px;top:1804px" width="60" height="43" viewBox="0 0 60 43"><defs><clipPath id="cp9"><path d="M0 2.6 C6 3 9 4.8 14 4.5 C22 3.5 30 0 37 0 C47 0 54 0.5 58 1.2 L58 37.5 C53 37 45 37.5 37 38.2 C28 39.5 20 41.5 14.6 41.3 C8 41 4 39 0 38.2 Z"/></clipPath><linearGradient id="sh9" x1="0" x2="1" y1="0" y2="0"><stop offset="0" stop-color="#000" stop-opacity="0.12"/><stop offset="0.3" stop-color="#000" stop-opacity="0"/><stop offset="0.55" stop-color="#fff" stop-opacity="0.10"/><stop offset="0.85" stop-color="#000" stop-opacity="0.15"/><stop offset="1" stop-color="#000" stop-opacity="0.05"/></linearGradient></defs><g clip-path="url(#cp9)"><rect x="0" y="0" width="20" height="42" fill="#1f9a48"/><rect x="20" y="0" width="20" height="42" fill="#fff"/><rect x="40" y="0" width="20" height="42" fill="#d9343c"/><rect x="0" y="0" width="60" height="43" fill="url(#sh9)"/></g></svg>
<div class="t" style="left:273.5px;top:1802.41px;font-size:45px;line-height:45px;color:#e2eaf6;font-weight:400;letter-spacing:0.875px;">Italy</div>
<div class="t" style="left:905.5px;top:1804.09px;font-size:41px;line-height:41px;color:#7db4f7;font-weight:700;letter-spacing:1.0px;">79.6</div>
<div class="r" style="left:1091px;top:1826px;width:29px;height:3px;background:#2b405e;"></div>
<div class="r" style="left:219px;top:1928px;width:257px;height:76px;background:#0f1d36;border:3px solid #1c2d4b;border-radius:20px;box-sizing:border-box;"></div>
<div class="r" style="left:494px;top:1928px;width:257px;height:76px;background:#0f1d36;border:3px solid #1c2d4b;border-radius:20px;box-sizing:border-box;"></div>
<div class="r" style="left:770px;top:1928px;width:182px;height:76px;background:#1b3766;border:3px solid #3b86f5;border-radius:20px;box-sizing:border-box;"></div>
<div class="r" style="left:407px;top:2022px;width:357px;height:76px;background:#0f1d36;border:3px solid #1c2d4b;border-radius:20px;box-sizing:border-box;"></div>
<div class="t" style="left:253.0px;top:1948.52px;font-size:34px;line-height:34px;color:#5e7c9f;font-weight:400;letter-spacing:1.2px;">3 kuukautta</div>
<div class="t" style="left:527.0px;top:1948.52px;font-size:34px;line-height:34px;color:#5e7c9f;font-weight:400;letter-spacing:1.3px;">6 kuukautta</div>
<div class="t" style="left:802.9px;top:1948.52px;font-size:34px;line-height:34px;color:#ffffff;font-weight:700;letter-spacing:-0.267px;">1 vuosi</div>
<div class="t" style="left:441.4px;top:2042.62px;font-size:34px;line-height:34px;color:#5e7c9f;font-weight:400;letter-spacing:1.147px;">Viimeiset 2 vuotta</div>
<div class="r" style="left:36px;top:2122px;width:108px;height:108px;background:#1b3766;border:3px solid #3b86f5;border-radius:50%;box-sizing:border-box;"></div>
<svg class="r" style="left:70px;top:2156px" width="40" height="40" viewBox="70 2156 40 40"><path d="M100.5 2164 Q103 2163 103 2166 V2186 Q103 2189 100.5 2188 L78 2177.5 Q76 2176.2 78 2175 Z" fill="#fff"/></svg>
<div class="r" style="left:162px;top:2167px;width:800px;height:18px;background:#0077cc;border-radius:9px;"></div>
<div class="r" style="left:897px;top:2140px;width:111px;height:72px;background:#eef5ff;border-radius:36px;box-shadow:0 2px 6px rgba(0,0,0,0.35);"></div>
<div class="r" style="left:1026px;top:2122px;width:108px;height:108px;background:#182335;border-radius:50%;"></div>
<svg class="r" style="left:1060px;top:2156px" width="40" height="40" viewBox="1060 2156 40 40"><path d="M1069.5 2164 Q1067 2163 1067 2166 V2186 Q1067 2189 1069.5 2188 L1092 2177.5 Q1094 2176.2 1092 2175 Z" fill="#84888f"/></svg>
<div class="t" style="left:41.6px;top:2238.21px;font-size:32px;line-height:32px;color:#4a6080;font-weight:400;letter-spacing:0.086px;">7.4.2025</div>
<div class="t" style="left:997.5px;top:2238.21px;font-size:32px;line-height:32px;color:#4a6080;font-weight:400;letter-spacing:0.686px;">6.4.2026</div>
<div class="t" style="left:505.5px;top:2239.22px;font-size:34px;line-height:34px;color:#7cb2f7;font-weight:700;letter-spacing:2.971px;">6.4.2026</div>
<div class="r" style="left:73px;top:2303px;width:146px;height:6px;background:#3a86f5;border-radius:0 0 5px 5px;"></div>
<svg class="r" style="left:100px;top:2330px" width="90" height="70" viewBox="100 2330 90 70">
<g stroke="#3a86f5" stroke-width="6" stroke-linecap="round"><line x1="121.5" y1="2352.2" x2="170.3" y2="2352.2"/><line x1="121.5" y1="2365.8" x2="159.6" y2="2365.8"/><line x1="121.5" y1="2379.6" x2="148.5" y2="2379.6"/></g></svg>
<svg class="r" style="left:395px;top:2330px" width="90" height="70" viewBox="395 2330 90 70">
<g stroke="#4a6586" stroke-width="6" stroke-linecap="round" fill="none" stroke-linejoin="round"><path d="M415.2 2382.9 L434.9 2367.9 L451.1 2356.8 L461 2343.9"/><line x1="416.5" y1="2388" x2="461.4" y2="2388"/></g></svg>
<svg class="r" style="left:690px;top:2330px" width="90" height="70" viewBox="690 2330 90 70">
<g stroke="#4a6586" stroke-width="6" stroke-linecap="round"><line x1="706.5" y1="2352.1" x2="755.5" y2="2352.1"/><line x1="706.5" y1="2365.8" x2="755.5" y2="2365.8"/><line x1="706.5" y1="2379.8" x2="755.5" y2="2379.8"/></g>
<g fill="#4a6586"><circle cx="739.4" cy="2352.1" r="7.7"/><circle cx="719.7" cy="2365.8" r="7.7"/><circle cx="742" cy="2380" r="7.7"/></g></svg>
<svg class="r" style="left:1000px;top:2330px" width="50" height="70" viewBox="1000 2330 50 70">
<circle cx="1024" cy="2347" r="7" fill="#4a6586"/><line x1="1024.1" y1="2360.5" x2="1024.1" y2="2385" stroke="#4a6586" stroke-width="7" stroke-linecap="round"/></svg>
<div class="t" style="left:113.6px;top:2412.07px;font-size:33px;line-height:33px;color:#3a86f5;font-weight:700;letter-spacing:0.033px;">Koti</div>
<div class="t" style="left:353.0px;top:2412.07px;font-size:33px;line-height:33px;color:#4a6586;font-weight:700;letter-spacing:0.422px;">Kehitykset</div>
<div class="t" style="left:648.1px;top:2412.07px;font-size:33px;line-height:33px;color:#4a6586;font-weight:700;letter-spacing:0.575px;">Asetukset</div>
<div class="t" style="left:969.5px;top:2412.07px;font-size:33px;line-height:33px;color:#4a6586;font-weight:700;letter-spacing:0.3px;">Tietoja</div>
</body></html>
